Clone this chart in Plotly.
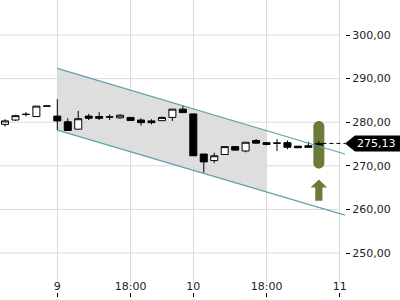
import plotly.graph_objects as go

# ---------------- data ----------------
candle_index = list(range(-5, 26))
open_ = [279.5, 280.5, 281.8, 281.3, 283.7,
         281.4, 280.1, 278.4, 281.4, 281.3, 281.2, 281.0, 281.1, 280.5, 280.3, 280.35, 281.1, 283.0,
         281.9, 272.7, 271.2, 272.6, 274.4, 273.4, 275.8, 275.3, 275.2, 275.3, 274.5, 274.6, 274.6]
high = [280.7, 281.7, 282.3, 283.7, 283.7,
        285.3, 280.9, 282.6, 281.9, 282.3, 281.8, 281.8, 281.2, 280.9, 280.7, 281.3, 283.0, 283.9,
        281.9, 272.7, 273.0, 274.4, 274.4, 275.4, 276.15, 275.5, 276.1, 275.8, 274.5, 275.5, 275.7]
low = [279.0, 280.3, 281.3, 281.3, 283.7,
       278.2, 278.1, 278.4, 280.5, 280.5, 280.5, 280.8, 280.3, 279.2, 279.5, 280.3, 280.3, 282.2,
       272.3, 268.4, 270.6, 272.6, 273.6, 273.1, 275.2, 274.7, 273.4, 273.8, 274.15, 274.25, 274.5]
close = [280.3, 281.5, 281.8, 283.7, 283.7,
         280.3, 278.1, 280.8, 280.9, 280.9, 281.2, 281.6, 280.4, 279.9, 279.9, 281.1, 283.0, 282.2,
         272.3, 270.9, 272.3, 274.4, 273.6, 275.4, 275.2, 274.9, 275.2, 274.25, 274.15, 274.25, 275.13]
last_price = 275.13

channel_x = [0, 27.5]
channel_upper = [292.36, 272.7]
channel_lower = [278.2, 258.7]
channel_fill_end = 20

signal_index = 25
signal_low = 269.4
signal_high = 280.3

tick_index = [0, 7, 13, 20, 27]
tick_text = ["9", "18:00", "10", "18:00", "11"]
price_ticks = [250, 260, 270, 280, 290, 300]

# ---------------- geometry / style ----------------
W, H = 400, 300
plot_w, plot_h = 345, 283
x_range = [-5.478, 27.5]
y_range = [243.12, 308.03]
dx = (x_range[1] - x_range[0]) / plot_w   # index units per pixel
dy = (y_range[1] - y_range[0]) / plot_h   # price units per pixel

FONT = "DejaVu Sans"
GRID = "#dadada"
TEAL = "#5aa3a8"
OLIVE = "#6b7c38"


def chan(vals, x):
    return vals[0] + (vals[1] - vals[0]) * (x - channel_x[0]) / (channel_x[1] - channel_x[0])


fig = go.Figure()

fig.add_trace(go.Candlestick(
    x=candle_index, open=open_, high=high, low=low, close=close,
    increasing=dict(fillcolor="white", line=dict(color="black", width=1)),
    decreasing=dict(fillcolor="black", line=dict(color="black", width=1)),
    whiskerwidth=0, showlegend=False, hoverinfo="skip",
))

for vals in (channel_upper, channel_lower):
    fig.add_trace(go.Scatter(x=channel_x, y=vals, mode="lines",
                             line=dict(color=TEAL, width=1.2),
                             showlegend=False, hoverinfo="skip"))

fig.add_trace(go.Scatter(x=[signal_index + 3.6 * dx, x_range[1]],
                         y=[last_price, last_price], mode="lines",
                         line=dict(color="black", width=1, dash="4px,3px"),
                         showlegend=False, hoverinfo="skip"))

# dummy trace for the label axis
fig.add_trace(go.Scatter(x=tick_index, y=[y_range[0]] * len(tick_index), xaxis="x2", yaxis="y",
                         mode="markers", marker=dict(opacity=0), showlegend=False, hoverinfo="skip"))

shapes = []
# channel fill
x0, x1 = channel_x[0], channel_fill_end
shapes.append(dict(type="path", xref="x", yref="y", layer="below",
                   path=f"M{x0},{chan(channel_upper, x0)} L{x1},{chan(channel_upper, x1)} "
                        f"L{x1},{chan(channel_lower, x1)} L{x0},{chan(channel_lower, x0)} Z",
                   fillcolor="#dedede", line=dict(width=0)))
# horizontal grid lines ending at last time tick
for v in price_ticks:
    shapes.append(dict(type="line", xref="x", yref="y", layer="below",
                       x0=x_range[0] - 1, x1=tick_index[-1], y0=v, y1=v,
                       line=dict(color=GRID, width=1)))

# signal pill
xc = signal_index
rx, ry = 5.5 * dx, 5.5 * dy
k = 0.5523
yt, yb = signal_high, signal_low
pill = (f"M{xc-rx},{yt-ry} L{xc-rx},{yb+ry} "
        f"C{xc-rx},{yb+ry-k*ry} {xc-k*rx},{yb} {xc},{yb} "
        f"C{xc+k*rx},{yb} {xc+rx},{yb+ry-k*ry} {xc+rx},{yb+ry} "
        f"L{xc+rx},{yt-ry} "
        f"C{xc+rx},{yt-ry+k*ry} {xc+k*rx},{yt} {xc},{yt} "
        f"C{xc-k*rx},{yt} {xc-rx},{yt-ry+k*ry} {xc-rx},{yt-ry} Z")
shapes.append(dict(type="path", xref="x", yref="y", layer="between", path=pill,
                   fillcolor=OLIVE, line=dict(width=0)))

# up arrow below the pill
tip = signal_low - 11 * dy
base = tip - 8 * dy
bottom = tip - 21.4 * dy
hw, sw = 8.3 * dx, 3.6 * dx
arrow = (f"M{xc},{tip} L{xc+hw},{base} L{xc+sw},{base} L{xc+sw},{bottom} "
         f"L{xc-sw},{bottom} L{xc-sw},{base} L{xc-hw},{base} Z")
shapes.append(dict(type="path", xref="x", yref="y", layer="between", path=arrow,
                   fillcolor=OLIVE, line=dict(width=0)))

# price label (outside plot, paper x)
px = lambda p: p / plot_w
hh = 8 * dy
label = (f"M{px(plot_w)},{last_price} L{px(plot_w + 10)},{last_price + hh} "
         f"L{px(W + 5)},{last_price + hh} L{px(W + 5)},{last_price - hh} "
         f"L{px(plot_w + 10)},{last_price - hh} Z")
shapes.append(dict(type="path", xref="paper", yref="y", layer="above", path=label,
                   fillcolor="black", line=dict(width=0)))

fig.update_layout(
    width=W, height=H,
    margin=dict(l=0, r=W - plot_w, t=0, b=0),
    paper_bgcolor="white", plot_bgcolor="white",
    separators=",.",
    boxgap=0.33, boxgroupgap=0,
    shapes=shapes,
    font=dict(family=FONT, size=11, color="#222"),
    xaxis=dict(range=x_range, tickvals=tick_index, showticklabels=False, ticks="",
               showgrid=True, gridcolor=GRID, gridwidth=1, zeroline=False,
               rangeslider=dict(visible=False), fixedrange=True, showline=False),
    xaxis2=dict(range=x_range, overlaying="x", anchor="free", position=0.01, side="bottom",
                tickvals=tick_index, ticktext=tick_text, ticks="inside", ticklen=4,
                tickcolor="black", ticklabelposition="inside", ticklabeloverflow="allow",
                showgrid=False, zeroline=False,
                showline=False, tickfont=dict(family=FONT, size=11, color="#222")),
    yaxis=dict(range=y_range, domain=[1 - plot_h / H, 1], side="right",
               tickvals=price_ticks, tickformat=".2f", ticks="outside", ticklen=4,
               tickcolor="black", showgrid=False, zeroline=False, showline=False,
               tickfont=dict(family=FONT, size=11, color="#222")),
    annotations=[dict(xref="paper", yref="y", x=px(376), y=last_price,
                      text=f"{last_price:.2f}".replace(".", ","), showarrow=False,
                      font=dict(family=FONT, size=11, color="white"),
                      xanchor="center", yanchor="middle")],
)

fig.write_html("out.html")
